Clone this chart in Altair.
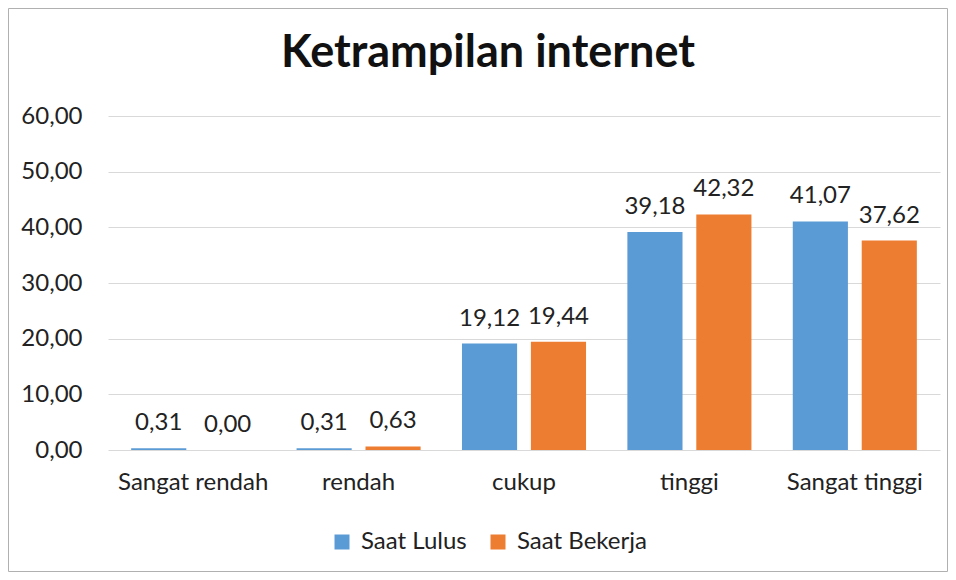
import altair as alt
import pandas as pd

categories = ["Sangat rendah", "rendah", "cukup", "tinggi", "Sangat tinggi"]
series = ["Saat Lulus", "Saat Bekerja"]
saat_lulus = [0.31, 0.31, 19.12, 39.18, 41.07]
saat_bekerja = [0.00, 0.63, 19.44, 42.32, 37.62]
y_ticks = [0, 10, 20, 30, 40, 50, 60]
colors = ["#5B9BD5", "#ED7D31"]

rows = []
for i, c in enumerate(categories):
    rows.append({"kategori": c, "seri": series[0], "nilai": saat_lulus[i]})
    rows.append({"kategori": c, "seri": series[1], "nilai": saat_bekerja[i]})
df = pd.DataFrame(rows)

FONT = "Lato"
TXT = "#222222"

x_enc = alt.X("kategori:N", sort=categories,
              scale=alt.Scale(paddingInner=0.25, paddingOuter=0.14),
              axis=alt.Axis(title=None, labelAngle=0, labelFontSize=24, labelColor=TXT,
                            labelFont=FONT, ticks=False, domain=False, labelPadding=20))
xo_enc = alt.XOffset("seri:N", sort=series, scale=alt.Scale(paddingInner=0.2, paddingOuter=0))
y_enc = alt.Y("nilai:Q", scale=alt.Scale(domain=[0, 60]),
              axis=alt.Axis(title=None, values=y_ticks, grid=True, gridColor="#d9d9d9",
                            domain=False, ticks=False, labelFontSize=24, labelColor=TXT,
                            labelFont=FONT, labelPadding=26,
                            labelExpr="replace(format(datum.value, '.2f'), '.', ',')"))

base = alt.Chart(df)

bars = base.mark_bar().encode(
    x=x_enc, xOffset=xo_enc, y=y_enc,
    color=alt.Color("seri:N", sort=series, scale=alt.Scale(domain=series, range=colors),
                    legend=alt.Legend(title=None, orient="none", legendX=222, legendY=414,
                                      direction="horizontal", symbolType="square", symbolSize=225,
                                      symbolStrokeWidth=0, labelFontSize=24, labelFont=FONT,
                                      labelColor=TXT, columnPadding=19, labelOffset=7)),
)

texts = base.transform_calculate(
    label="replace(format(datum.nilai, '.2f'), '.', ',')"
).mark_text(baseline="alphabetic", dy=-18, fontSize=24, font=FONT, color=TXT).encode(
    x=alt.X("kategori:N", sort=categories), xOffset=alt.XOffset("seri:N", sort=series),
    y="nilai:Q", text="label:N",
)

border = alt.Chart(pd.DataFrame({"a": [0]})).mark_rect(fill=None, stroke="#b0b0b0", strokeWidth=1).encode(
    x=alt.value(-99.5), x2=alt.value(839.5), y=alt.value(-107.5), y2=alt.value(455.5)
)

chart = alt.layer(bars, texts, border).properties(
    width=832, height=334,
    title=alt.Title("Ketrampilan internet", fontSize=45, font=FONT, fontWeight="bold",
                    color="#111111", anchor="middle", dx=-36, offset=0, baseline="alphabetic", dy=104),
    autosize=alt.AutoSizeParams(type="none"),
    padding={"left": 100, "top": 108, "right": 8, "bottom": 122},
).configure_view(stroke=None)

chart.save("out.html", embed_options={"renderer": "svg", "actions": False})
